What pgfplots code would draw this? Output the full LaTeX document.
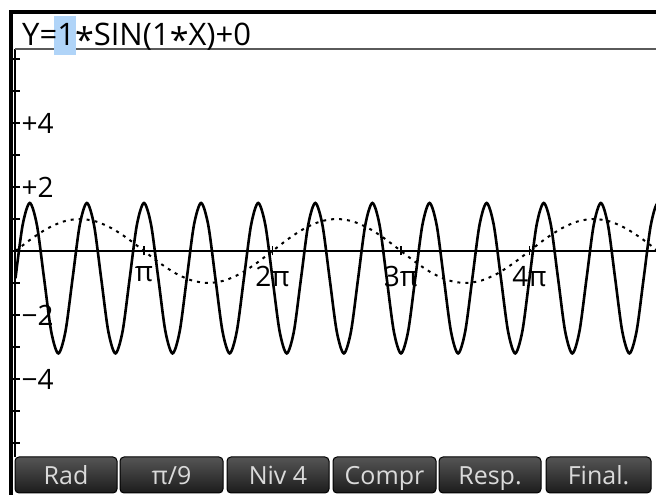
\documentclass[border=0pt]{standalone}
\usepackage{pgfplots}
\pgfplotsset{compat=1.18}
\usepackage{fontspec}
\setmainfont{Open Sans}
\definecolor{hlblue}{HTML}{B0D4F8}
\definecolor{keytop}{HTML}{555555}
\definecolor{keybot}{HTML}{1C1C1C}
\definecolor{keytext}{HTML}{DADADA}
\definecolor{sepgray}{HTML}{5A5A5A}
\pgfplotstableread{
x y
0 -0.85
0.1745 0.812
0.3491 1.5
0.5236 0.812
0.6981 -0.85
0.8727 -2.512
1.0472 -3.2
1.2217 -2.512
1.3963 -0.85
1.5708 0.812
1.7453 1.5
1.9199 0.812
2.0944 -0.85
2.2689 -2.512
2.4435 -3.2
2.6180 -2.512
2.7925 -0.85
2.9671 0.812
3.1416 1.5
3.3161 0.812
3.4907 -0.85
3.6652 -2.512
3.8397 -3.2
4.0143 -2.512
4.1888 -0.85
4.3633 0.812
4.5379 1.5
4.7124 0.812
4.8869 -0.85
5.0615 -2.512
5.2360 -3.2
5.4105 -2.512
5.5851 -0.85
5.7596 0.812
5.9341 1.5
6.1087 0.812
6.2832 -0.85
6.4577 -2.512
6.6323 -3.2
6.8068 -2.512
6.9813 -0.85
7.1558 0.812
7.3304 1.5
7.5049 0.812
7.6794 -0.85
7.8540 -2.512
8.0285 -3.2
8.2030 -2.512
8.3776 -0.85
8.5521 0.812
8.7266 1.5
8.9012 0.812
9.0757 -0.85
9.2502 -2.512
9.4248 -3.2
9.5993 -2.512
9.7738 -0.85
9.9484 0.812
10.1229 1.5
10.2974 0.812
10.4720 -0.85
10.6465 -2.512
10.8210 -3.2
10.9956 -2.512
11.1701 -0.85
11.3446 0.812
11.5192 1.5
11.6937 0.812
11.8682 -0.85
12.0428 -2.512
12.2173 -3.2
12.3918 -2.512
12.5664 -0.85
12.7409 0.812
12.9154 1.5
13.0900 0.812
13.2645 -0.85
13.4390 -2.512
13.6136 -3.2
13.7881 -2.512
13.9626 -0.85
14.1372 0.812
14.3117 1.5
14.4862 0.812
14.6608 -0.85
14.8353 -2.512
15.0098 -3.2
15.1844 -2.512
15.3589 -0.85
15.5334 0.812
15.7080 1.5
15.8825 0.812
}\solidtab
\pgfplotstableread{
x y
0 0
0.3927 0.3827
0.7854 0.7071
1.1781 0.9239
1.5708 1
1.9635 0.9239
2.3562 0.7071
2.7489 0.3827
3.1416 0
3.5343 -0.3827
3.9270 -0.7071
4.3197 -0.9239
4.7124 -1
5.1051 -0.9239
5.4978 -0.7071
5.8905 -0.3827
6.2832 0
6.6759 0.3827
7.0686 0.7071
7.4613 0.9239
7.8540 1
8.2467 0.9239
8.6394 0.7071
9.0321 0.3827
9.4248 0
9.8175 -0.3827
10.2102 -0.7071
10.6029 -0.9239
10.9956 -1
11.3883 -0.9239
11.7810 -0.7071
12.1737 -0.3827
12.5664 0
12.9591 0.3827
13.3518 0.7071
13.7445 0.9239
14.1372 1
14.5299 0.9239
14.9226 0.7071
15.3153 0.3827
15.7080 0
}\dottab
\begin{document}
\begin{tikzpicture}[x=1pt,y=1pt]
\path[use as bounding box] (0pt,0pt) rectangle (656pt,495pt);
\begin{axis}[
  at={(15.5pt,244pt)}, anchor=origin, scale only axis,
  width=640.5pt, height=408pt,
  xmin=0, xmax=15.66, ymin=-6.4375, ymax=6.3125,
  axis x line=middle, axis y line=left,
  axis line style={-, line width=2pt, black},
  tick align=center, major tick length=9pt,
  tick style={black, line width=1.6pt},
  xtick={3.1416,6.2832,9.4248,12.5664},
  xticklabels={π,2π,3π,4π},
  ytick={-6,-5,-4,-3,-2,-1,0,1,2,3,4,5,6},
  yticklabels={{},{},{−4},{},{−2},{},{},{},{+2},{},{+4},{},{}},
  /pgf/number format/assume math mode=true,
  ticklabel style={font=\fontsize{28}{30}\selectfont, inner sep=0pt},
  xticklabel style={anchor=north, yshift=-11pt},
  yticklabel style={anchor=west, xshift=10.5pt},
  clip=true,
]
\addplot[black, line width=2pt, dash pattern=on 3pt off 5pt, smooth] table[x=x,y=y] {\dottab};
\addplot[black, line width=2.6pt, smooth] table[x=x,y=y] {\solidtab};
\end{axis}
% separator, highlight and title
\draw[sepgray, line width=2pt] (15pt,446pt) -- (656pt,446pt);
\fill[hlblue] (54pt,440pt) rectangle (76pt,479pt);
\node[anchor=base west, inner sep=0pt, font=\fontsize{31}{34}\selectfont] at (22pt,449pt)
  {Y=1\raisebox{-0.2em}{\scalebox{1.1}{*}}SIN(1\raisebox{-0.2em}{\scalebox{1.1}{*}}X)+0};
% borders
\fill[black] (9pt,0pt) rectangle (13pt,485pt);
\fill[black] (9pt,481pt) rectangle (656pt,485pt);
% soft keys
\foreach \a/\b/\t in {15/117/{Rad}, 120/223/{π/9}, 227/329/{Niv 4}, 333/436/{Compr}, 439/541/{Resp.}, 546/651/{Final.}}{
  \shadedraw[rounded corners=4pt, top color=keytop, bottom color=keybot, draw=black, line width=1pt] (\a pt,2pt) rectangle (\b pt,38pt);
  \node[text=keytext, font=\fontsize{25}{27}\selectfont, inner sep=0pt, anchor=base] at ({(\a+\b)/2*1pt},10pt) {\t};
}
\end{tikzpicture}
\end{document}
